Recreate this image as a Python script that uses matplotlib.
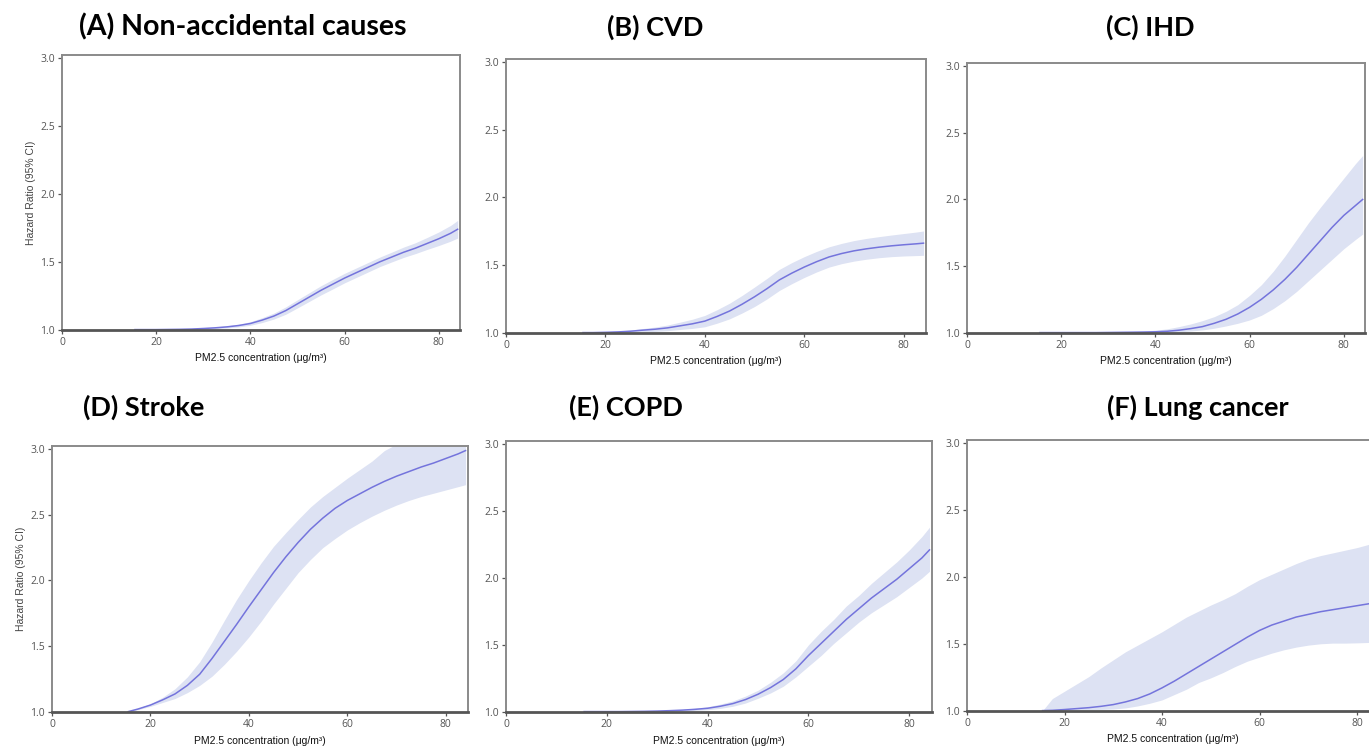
import matplotlib
matplotlib.use("Agg")
import matplotlib.pyplot as plt

# ---------------- data ----------------
pm25 = [15.5, 17.5, 20, 22.5, 25, 27.5, 30, 32.5, 35, 37.5, 40, 42.5, 45, 47.5, 50,
        52.5, 55, 57.5, 60, 62.5, 65, 67.5, 70, 72.5, 75, 77.5, 80, 82.5, 84]

titles = ["(A) Non-accidental causes", "(B) CVD", "(C) IHD",
          "(D) Stroke", "(E) COPD", "(F) Lung cancer"]

hr_A = [1.0, 1.0, 1.0, 1.001, 1.002, 1.004, 1.008, 1.013, 1.02, 1.03, 1.045, 1.07, 1.10, 1.14, 1.19,
        1.24, 1.29, 1.335, 1.38, 1.42, 1.46, 1.50, 1.535, 1.57, 1.60, 1.635, 1.67, 1.71, 1.74]
lo_A = [1.0, 0.999, 0.998, 0.998, 0.999, 1.0, 1.003, 1.007, 1.012, 1.02, 1.032, 1.052, 1.078, 1.113, 1.16,
        1.208, 1.256, 1.30, 1.345, 1.385, 1.425, 1.465, 1.499, 1.532, 1.56, 1.591, 1.62, 1.652, 1.675]
hi_A = [1.0, 1.001, 1.002, 1.004, 1.005, 1.008, 1.013, 1.019, 1.028, 1.04, 1.058, 1.088, 1.122, 1.167, 1.22,
        1.272, 1.324, 1.37, 1.415, 1.455, 1.495, 1.535, 1.571, 1.608, 1.64, 1.679, 1.72, 1.768, 1.805]

hr_B = [1.0, 1.0, 1.002, 1.005, 1.01, 1.018, 1.025, 1.035, 1.05, 1.065, 1.085, 1.12, 1.16, 1.21, 1.265,
        1.325, 1.39, 1.44, 1.485, 1.525, 1.56, 1.585, 1.605, 1.62, 1.632, 1.642, 1.65, 1.657, 1.662]
lo_B = [1.0, 0.998, 0.998, 0.999, 1.001, 1.006, 1.009, 1.014, 1.023, 1.031, 1.043, 1.07, 1.102, 1.145, 1.193,
        1.249, 1.312, 1.362, 1.408, 1.449, 1.485, 1.51, 1.529, 1.543, 1.554, 1.562, 1.567, 1.57, 1.572]
hi_B = [1.0, 1.002, 1.006, 1.011, 1.019, 1.03, 1.041, 1.056, 1.077, 1.099, 1.127, 1.17, 1.218, 1.275, 1.337,
        1.401, 1.468, 1.518, 1.562, 1.601, 1.635, 1.66, 1.681, 1.697, 1.71, 1.722, 1.733, 1.744, 1.752]

hr_C = [1.0, 1.0, 1.0, 1.0, 1.0, 1.0, 1.001, 1.002, 1.003, 1.004, 1.006, 1.01, 1.018, 1.03, 1.045,
        1.07, 1.10, 1.14, 1.19, 1.25, 1.32, 1.40, 1.49, 1.59, 1.69, 1.79, 1.88, 1.955, 2.0]
lo_C = [1.0, 1.0, 1.0, 1.0, 1.0, 1.0, 1.0, 1.0, 1.0, 1.0, 1.001, 1.003, 1.006, 1.012, 1.02,
        1.033, 1.05, 1.07, 1.095, 1.13, 1.18, 1.24, 1.31, 1.39, 1.47, 1.55, 1.63, 1.70, 1.74]
hi_C = [1.0, 1.0, 1.0, 1.001, 1.002, 1.003, 1.004, 1.006, 1.008, 1.012, 1.018, 1.028, 1.045, 1.065, 1.09,
        1.12, 1.16, 1.21, 1.28, 1.36, 1.46, 1.575, 1.70, 1.825, 1.94, 2.05, 2.16, 2.27, 2.33]

hr_D = [1.0, 1.02, 1.05, 1.09, 1.135, 1.20, 1.285, 1.405, 1.535, 1.665, 1.80, 1.93, 2.06, 2.18, 2.29,
        2.39, 2.475, 2.55, 2.61, 2.66, 2.71, 2.755, 2.795, 2.83, 2.865, 2.895, 2.93, 2.965, 2.99]
lo_D = [1.0, 1.015, 1.04, 1.07, 1.10, 1.145, 1.20, 1.27, 1.36, 1.46, 1.57, 1.69, 1.82, 1.94, 2.06,
        2.16, 2.25, 2.32, 2.385, 2.44, 2.49, 2.535, 2.575, 2.61, 2.64, 2.665, 2.69, 2.715, 2.73]
hi_D = [1.0, 1.025, 1.06, 1.11, 1.175, 1.265, 1.38, 1.53, 1.695, 1.855, 2.0, 2.135, 2.26, 2.365, 2.465,
        2.56, 2.64, 2.71, 2.78, 2.845, 2.91, 2.99, 3.04, 3.08, 3.12, 3.16, 3.20, 3.23, 3.25]

hr_E = [1.0, 1.0, 1.0, 1.0, 1.001, 1.002, 1.004, 1.007, 1.011, 1.017, 1.025, 1.04, 1.06, 1.09, 1.13,
        1.18, 1.24, 1.32, 1.42, 1.51, 1.60, 1.69, 1.77, 1.85, 1.92, 1.99, 2.07, 2.15, 2.21]
lo_E = [1.0, 1.0, 1.0, 1.0, 1.0, 1.0, 1.001, 1.003, 1.005, 1.009, 1.014, 1.024, 1.04, 1.064, 1.10,
        1.14, 1.19, 1.26, 1.34, 1.42, 1.51, 1.59, 1.67, 1.74, 1.80, 1.86, 1.93, 2.00, 2.05]
hi_E = [1.0, 1.0, 1.0, 1.001, 1.002, 1.004, 1.007, 1.011, 1.017, 1.025, 1.036, 1.056, 1.08, 1.116, 1.16,
        1.22, 1.29, 1.38, 1.50, 1.60, 1.69, 1.79, 1.87, 1.96, 2.04, 2.12, 2.21, 2.31, 2.38]

hr_F = [1.0, 1.002, 1.008, 1.015, 1.022, 1.032, 1.045, 1.065, 1.09, 1.125, 1.17, 1.22, 1.275, 1.33, 1.385,
        1.44, 1.495, 1.55, 1.60, 1.64, 1.67, 1.70, 1.72, 1.74, 1.755, 1.77, 1.785, 1.80, 1.805]
lo_F = [1.0, 1.0, 1.0, 1.003, 1.006, 1.009, 1.012, 1.02, 1.035, 1.055, 1.08, 1.12, 1.16, 1.21, 1.245,
        1.285, 1.33, 1.37, 1.40, 1.43, 1.455, 1.475, 1.49, 1.50, 1.505, 1.505, 1.507, 1.51, 1.51]
hi_F = [1.0, 1.09, 1.145, 1.20, 1.255, 1.32, 1.38, 1.44, 1.49, 1.54, 1.59, 1.645, 1.70, 1.745, 1.79,
        1.83, 1.875, 1.93, 1.98, 2.02, 2.06, 2.10, 2.135, 2.16, 2.18, 2.20, 2.22, 2.245, 2.26]

series = [(hr_A, lo_A, hi_A), (hr_B, lo_B, hi_B), (hr_C, lo_C, hi_C),
          (hr_D, lo_D, hi_D), (hr_E, lo_E, hi_E), (hr_F, lo_F, hi_F)]

xticks = [0, 20, 40, 60, 80]
yticks = [1.0, 1.5, 2.0, 2.5, 3.0]

# ---------------- layout ----------------
W, H = 1369, 747
fig = plt.figure(figsize=(W / 100, H / 100), dpi=100)

# (left, right, top, bottom) in pixels
boxes = [(62, 460, 55, 330), (506, 926, 59, 333), (967, 1365, 63, 333),
         (52, 468, 446, 712), (506, 932, 441, 712), (967, 1379, 440, 711)]
title_pos = [(243, 27), (655, 27), (1150, 27), (144, 407), (626, 407), (1198, 407)]
title_size = [20.5, 19.5, 19.5, 19.5, 19.5, 19.5]

line_c = "#7474dc"
band_c = "#dde2f3"
spine_c = "#8a8a8a"

for i, (l, r, t, b) in enumerate(boxes):
    ax = fig.add_axes([l / W, 1 - b / H, (r - l) / W, (b - t) / H])
    hr, lo, hi = series[i]
    ax.fill_between(pm25, lo, hi, color=band_c, lw=0)
    ax.plot(pm25, hr, color=line_c, lw=1.1)
    ax.set_xlim(0, 84.5)
    ax.set_ylim(0.997, 3.025)
    ax.set_xticks(xticks)
    ax.set_yticks(yticks)
    ax.set_xticklabels([str(v) for v in xticks])
    ax.set_yticklabels([f"{v:.1f}" for v in yticks])
    for s in ["top", "right", "left"]:
        ax.spines[s].set_color(spine_c)
        ax.spines[s].set_linewidth(1.4)
    ax.spines["bottom"].set_color("#555555")
    ax.spines["bottom"].set_linewidth(2.0)
    ax.tick_params(axis="both", direction="out", length=3, width=0.9,
                   color="#555555", labelcolor="#555555", labelsize=7.5, pad=2)
    for lab in ax.get_xticklabels() + ax.get_yticklabels():
        lab.set_family("Open Sans")
    ax.set_xlabel("PM2.5 concentration (\u03bcg/m\u00b3)", fontsize=7.5,
                  family="Liberation Sans", color="#111111", labelpad=4)
    if i in (0, 3):
        ax.set_ylabel("Hazard Ratio (95% CI)", fontsize=7.5,
                      family="Liberation Sans", color="#444444", labelpad=3)
    tx, ty = title_pos[i]
    fig.text(tx / W, 1 - ty / H, titles[i], ha="center", va="center",
             fontsize=title_size[i], fontweight="bold", family="Lato", color="black")

fig.savefig("out.png", dpi=100)
